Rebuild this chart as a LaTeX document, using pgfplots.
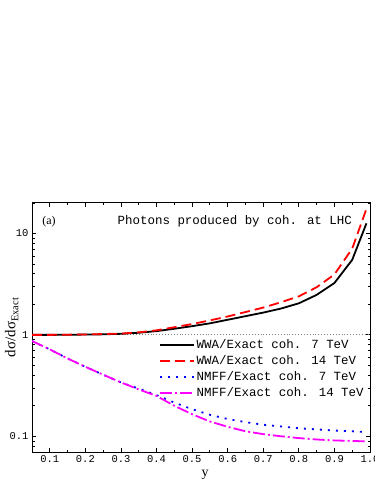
\documentclass[border=0pt]{standalone}
\usepackage{fontspec}
\setmainfont{Liberation Mono}
\newfontfamily\serif{Liberation Serif}
\usepackage{pgfplots}
\pgfplotsset{compat=1.18}
\definecolor{mag}{RGB}{255,0,255}
\begin{document}
\begin{tikzpicture}[x=1bp,y=1bp]
\useasboundingbox (0,0) rectangle (374,484);
\begin{axis}[
  at={(32bp,32bp)}, anchor=south west,
  scale only axis, width=338bp, height=249bp,
  xmin=0.05, xmax=1.0,
  ymode=log, ymin=0.07, ymax=20,
  xtick={0.1,0.2,0.3,0.4,0.5,0.6,0.7,0.8,0.9,1.0},
  xticklabels={0.1,0.2,0.3,0.4,0.5,0.6,0.7,0.8,0.9,1.0},
  minor xtick={0.05,0.15,0.25,0.35,0.45,0.55,0.65,0.75,0.85,0.95},
  ytick={0.1,1,10},
  yticklabels={0.1,1,10},
  minor ytick={0.07,0.08,0.09,0.2,0.3,0.4,0.5,0.6,0.7,0.8,0.9,2,3,4,5,6,7,8,9,20},
  tick label style={font=\fontsize{10.5}{12}\selectfont},
  major tick length=4bp, minor tick length=2.5bp,
  axis line style={line width=1bp},
  tick style={line width=0.8bp, black},
  xlabel={\serif y},
  xlabel style={font=\fontsize{14}{14}\selectfont, at={(axis description cs:0.512,0)}, anchor=north, yshift=-15bp},
  ylabel={\serif dσ/dσ\raisebox{-3bp}{\fontsize{10.5}{10}\selectfont Exact}},
  ylabel style={font=\fontsize{15}{15}\selectfont, at={(axis description cs:-0.06,0.5)}, anchor=center},
  legend style={at={(0.375,0.46)}, anchor=north west, draw=none, fill=none,
    font=\fontsize{12.5}{14}\selectfont, row sep=1.5bp, inner sep=0bp,
    cells={anchor=west}},
  legend image code/.code={\draw[#1] (0bp,0bp) -- (34bp,0bp);},
  clip=true,
]
\addplot[gray, dotted, line width=0.9bp, forget plot] coordinates {(0.05,1) (1.0,1)};
\addplot[black, line width=1.8bp] coordinates {
(0.05,1.0) (0.1,1.0) (0.15,1.003) (0.2,1.008) (0.25,1.013) (0.3,1.025) (0.35,1.05) (0.4,1.09) (0.45,1.15) (0.5,1.22) (0.55,1.30) (0.6,1.41) (0.65,1.53) (0.7,1.66) (0.75,1.82) (0.8,2.05) (0.85,2.48) (0.9,3.25) (0.95,5.5) (0.99,12.6)};
\addlegendentry{WWA/Exact coh. 7 TeV}
\addplot[red, line width=1.8bp, dash pattern=on 10bp off 5bp] coordinates {
(0.05,1.0) (0.1,1.0) (0.2,1.01) (0.3,1.03) (0.35,1.06) (0.4,1.11) (0.45,1.19) (0.5,1.28) (0.55,1.39) (0.6,1.52) (0.65,1.68) (0.7,1.86) (0.75,2.1) (0.8,2.4) (0.85,2.95) (0.9,3.95) (0.95,7.1) (0.99,17.5)};
\addlegendentry{WWA/Exact coh. 14 TeV}
\addplot[blue, line width=1.8bp, dash pattern=on 2bp off 6bp] coordinates {
(0.05,0.87) (0.1,0.72) (0.15,0.585) (0.2,0.485) (0.25,0.405) (0.3,0.34) (0.35,0.295) (0.4,0.255) (0.45,0.215) (0.5,0.185) (0.55,0.163) (0.6,0.148) (0.65,0.138) (0.7,0.13) (0.75,0.125) (0.8,0.12) (0.85,0.117) (0.9,0.114) (0.95,0.112) (0.99,0.11)};
\addlegendentry{NMFF/Exact coh. 7 TeV}
\addplot[mag, line width=1.8bp, dash pattern=on 12bp off 3bp on 2bp off 3bp] coordinates {
(0.05,0.87) (0.1,0.72) (0.15,0.585) (0.2,0.485) (0.25,0.405) (0.3,0.34) (0.35,0.29) (0.4,0.25) (0.45,0.2) (0.5,0.165) (0.55,0.14) (0.6,0.124) (0.65,0.112) (0.7,0.105) (0.75,0.1) (0.8,0.096) (0.85,0.093) (0.9,0.091) (0.95,0.09) (0.99,0.089)};
\addlegendentry{NMFF/Exact coh. 14 TeV}
\node[anchor=east, font=\fontsize{12.5}{14}\selectfont, inner sep=0pt] at (rel axis cs:0.947,0.925) {Photons produced by coh. at LHC};
\node[anchor=west, font=\serif\fontsize{12}{14}\selectfont, inner sep=0pt] at (rel axis cs:0.03,0.925) {(a)};
\end{axis}
\end{tikzpicture}
\end{document}
